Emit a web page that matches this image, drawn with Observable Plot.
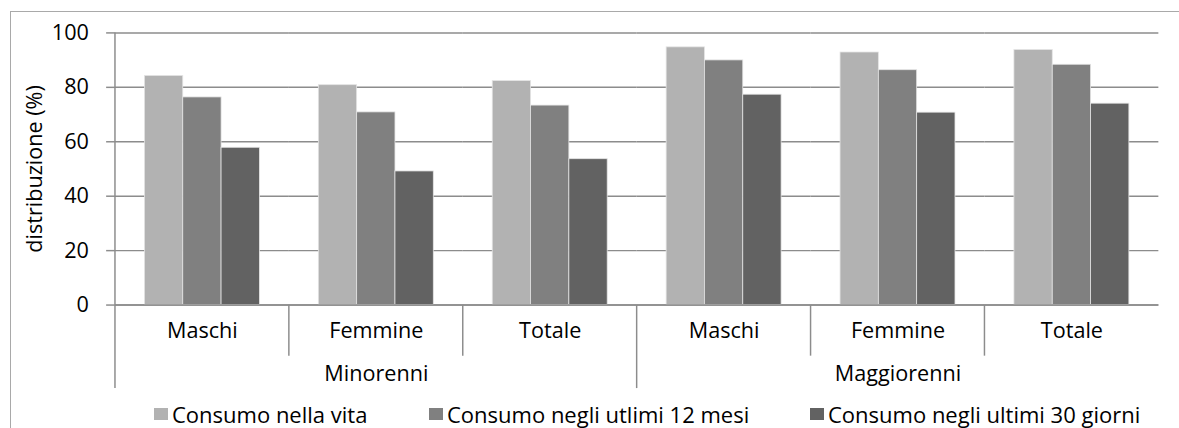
<!DOCTYPE html>
<html>
<head>
<meta charset="utf-8">
<script src="https://cdn.jsdelivr.net/npm/d3@7"></script>
<script src="https://cdn.jsdelivr.net/npm/@observablehq/plot@0.6"></script>
<style>
  html, body { margin: 0; padding: 0; background: #fff; width: 1179px; height: 428px; overflow: hidden; }
  #chart { position: relative; width: 1179px; height: 428px; overflow: hidden; font-family: "Open Sans", sans-serif; }
  #border { position: absolute; left: 10px; top: 11px; width: 1300px; height: 600px; border: 1.5px solid #a9a9a9; box-sizing: border-box; }
  #plot { position: absolute; left: 0; top: 0; }
  #legend { position: absolute; left: 154px; top: 397px; width: 1100px; }
  #legend * { font-family: "Open Sans", sans-serif !important; font-size: 22px !important; color: #000; }
  #legend .lg-swatches { margin: 0 !important; }
  #legend .lg-swatch { margin-right: 0 !important; }
  #legend .lg-swatch > svg { margin-right: 4px !important; }
  #legend .lg-swatch:nth-of-type(1) { width: 275px; }
  #legend .lg-swatch:nth-of-type(2) { width: 381px; }
</style>
</head>
<body>
<div id="chart">
  <div id="border"></div>
  <div id="plot"></div>
  <div id="legend"></div>
</div>
<script>
// Categories, series and values
const groups = ["Minorenni", "Maggiorenni"];
const subgroups = ["Maschi", "Femmine", "Totale"];
const series = ["Consumo nella vita", "Consumo negli utlimi 12 mesi", "Consumo negli ultimi 30 giorni"];
const vita     = [84.2, 80.8, 82.3, 94.7, 92.8, 93.7];
const mesi12   = [76.3, 70.8, 73.3, 89.9, 86.3, 88.3];
const giorni30 = [57.8, 49.1, 53.6, 77.3, 70.7, 74.0];
const yTicks = [0, 20, 40, 60, 80, 100];
const yLabel = "distribuzione (%)";
const colors = ["#b2b2b2", "#808080", "#626262"];

// One facet per (group, subgroup) pair
const keys = groups.flatMap(g => subgroups.map(s => `${g}|${s}`));
const rows = keys.flatMap((k, i) => [
  {key: k, serie: series[0], value: vita[i]},
  {key: k, serie: series[1], value: mesi12[i]},
  {key: k, serie: series[2], value: giorni30[i]}
]);

const W = 1200;
const gridColor = "#8c8c8c";

const plot = Plot.plot({
  width: W,
  height: 428,
  marginLeft: 115,
  marginRight: W - 1180.6,
  marginTop: 33,
  marginBottom: 118,
  style: {fontFamily: "Open Sans, sans-serif", fontSize: "22px", color: "#000", background: "transparent", overflow: "visible"},
  fx: {domain: keys, padding: 0, axis: null, label: null},
  x: {domain: series, paddingInner: 0, paddingOuter: 0.75, axis: null},
  y: {domain: [0, 100], axis: null},
  color: {domain: series, range: colors},
  marks: [
    Plot.ruleY(yTicks, {y: d => d, stroke: gridColor, strokeWidth: 1.5}),
    Plot.barY(rows, {fx: "key", x: "serie", y: "value", fill: "serie", stroke: "#e4e4e4", strokeWidth: 0.8}),
    Plot.ruleY([0], {stroke: gridColor, strokeWidth: 1.5}),
    Plot.axisY(yTicks, {tickSize: 9, tickPadding: 18, stroke: gridColor, strokeWidth: 1.5, label: null}),
    // subgroup labels under each facet
    Plot.text(keys, {fx: k => k, text: k => k.split("|")[1], frameAnchor: "bottom", textAnchor: "middle", lineAnchor: "bottom", dy: 34}),
    // group labels centred under the middle facet of each group
    Plot.text(groups, {fx: g => `${g}|${subgroups[1]}`, text: d => d, frameAnchor: "bottom", textAnchor: "middle", lineAnchor: "bottom", dy: 77}),
    Plot.text([yLabel], {fx: () => keys[0], text: d => d, frameAnchor: "left", textAnchor: "middle", rotate: -90, dx: -82})
  ]
});
document.getElementById("plot").appendChild(plot);

// Category separators below the axis, placed on the facet band edges
const fx = plot.scale("fx");
const y = plot.scale("y");
const sep = keys.map((k, i) => ({
  x: fx.apply(k),
  y1: i === 0 ? y.apply(100) : y.apply(0),
  y2: i % subgroups.length === 0 ? y.apply(0) + 85 : y.apply(0) + 52
}));
d3.select(plot).append("g")
  .attr("stroke", gridColor)
  .attr("stroke-width", 1.5)
  .selectAll("line")
  .data(sep)
  .join("line")
  .attr("x1", d => d.x).attr("x2", d => d.x)
  .attr("y1", d => d.y1).attr("y2", d => d.y2);

// Legend
const legend = plot.legend("color", {swatchWidth: 14, swatchHeight: 12, className: "lg"});
document.getElementById("legend").appendChild(legend);
</script>
</body>
</html>
